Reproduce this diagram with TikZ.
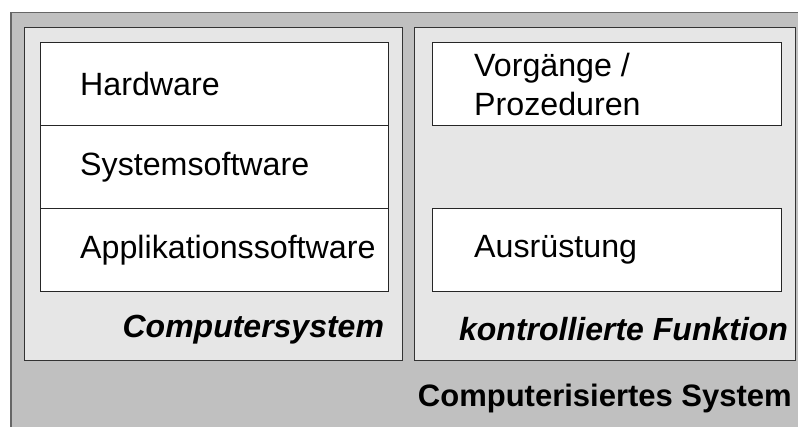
\documentclass[tikz,border=0pt]{standalone}
\usepackage{fontspec}
\setmainfont{Liberation Sans}
\usetikzlibrary{positioning}
\definecolor{outergray}{HTML}{C0C0C0}
\definecolor{panelgray}{HTML}{E6E6E6}

\begin{document}
\begin{tikzpicture}[x=1pt,y=-1pt,
  panel/.style={draw=black!80, line width=1.2pt, fill=panelgray, inner sep=0pt, anchor=north west},
  layer/.style={draw=black!85, line width=1pt, fill=white, minimum height=83pt, inner sep=0pt, anchor=north west},
  caption/.style={inner sep=0pt, font=\fontsize{32.2}{39}\selectfont, align=left},
  title/.style={inner sep=0pt, font=\fontsize{32}{39}\selectfont\bfseries\itshape, anchor=east}]
\useasboundingbox (0,0) rectangle (798,427);
\clip (0,0) rectangle (798,427);

% Computerisiertes System
\node[draw=black!60, line width=1.5pt, fill=outergray, minimum width=820pt, minimum height=440pt, anchor=north west] (system) at (10,12) {};
\node[title, font=\fontsize{31}{39}\selectfont\bfseries] (systitle) at (792,398) {Computerisiertes System};

% Computersystem
\node[panel, minimum width=378pt, minimum height=333pt] (cspanel) at (24,27) {};
\node[layer, minimum width=348pt] (hw) at (40,42) {};
\node[layer, minimum width=348pt] (sw) at (40,125) {};
\node[layer, minimum width=348pt] (app) at (40,208) {};
\node[caption, right=40pt of hw.west] (hwtext) {Hardware};
\node[caption, right=40pt of sw.west] (swtext) {Systemsoftware};
\node[caption, right=40pt of app.west] (apptext) {Applikationssoftware};
\node[title] (cstitle) at ([xshift=-19pt,yshift=32pt]cspanel.south east) {Computersystem};

% kontrollierte Funktion
\node[panel, minimum width=381pt, minimum height=333pt] (fnpanel) at (414,27) {};
\node[layer, minimum width=349pt] (proc) at (432,42) {};
\node[layer, minimum width=349pt] (equip) at (432,208) {};
\node[caption, right=42pt of proc.west] (proctext) {Vorgänge /\\Prozeduren};
\node[caption, right=42pt of equip.west] (equiptext) {Ausrüstung};
\node[title] (fntitle) at ([xshift=-8pt,yshift=32pt]fnpanel.south east) {kontrollierte Funktion};
\end{tikzpicture}
\end{document}
